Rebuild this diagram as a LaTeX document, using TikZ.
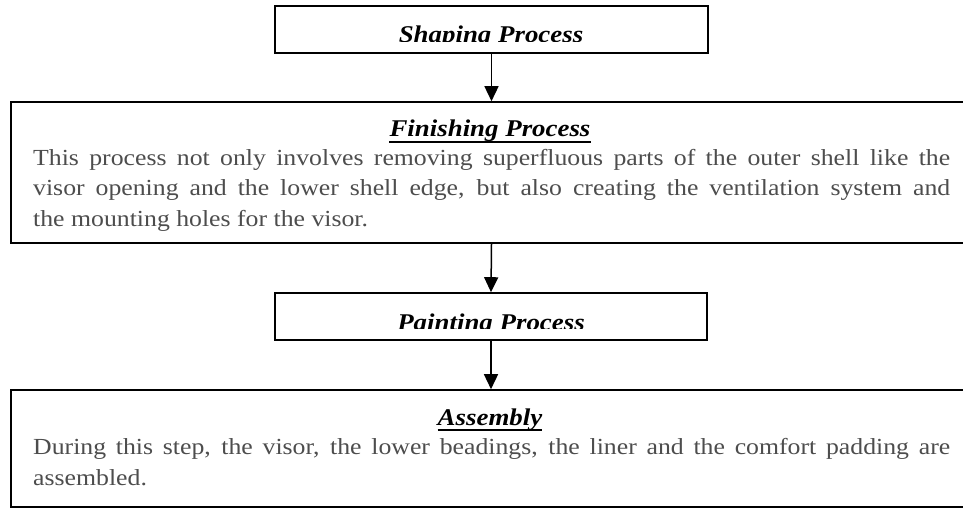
\documentclass[tikz,border=0pt]{standalone}
\usepackage{fontspec}
\setmainfont[FakeStretch=1.12]{Liberation Serif}
\usetikzlibrary{arrows.meta}
\definecolor{bodygray}{HTML}{4D4D4D}
\tikzset{
  box/.style={draw=black, line width=1.6pt, inner sep=0pt},
  flow/.style={draw=black, line width=1.5pt, -{Triangle[length=15pt,width=14pt]}},
  titletext/.style={font=\fontsize{24}{28}\selectfont\bfseries\itshape, text=black, inner sep=0pt, anchor=base},
  bodytext/.style={font=\fontsize{23}{30}\selectfont, text=bodygray, inner sep=0pt, anchor=base west},
  uline/.style={draw=black, line width=2pt}
}
\begin{document}
\begin{tikzpicture}[x=1pt,y=-1pt]
\clip (0,0) rectangle (963,508);
\fill[white] (0,0) rectangle (963,508);
% boxes
\node[box, minimum width=433pt, minimum height=47pt] (shape) at (491.5,29.5) {};
\node[box, minimum width=969pt, minimum height=141pt] (finish) at (495.5,172.5) {};
\node[box, minimum width=432pt, minimum height=47pt] (paint) at (491,316.5) {};
\node[box, minimum width=969pt, minimum height=117pt] (assem) at (495.5,448.5) {};
% clipped titles
\begin{scope}
  \clip (276,7) rectangle (707,42);
  \node[titletext] (shapet) at (491,43) {Shaping Process};
\end{scope}
\begin{scope}
  \clip (276,294) rectangle (706,328.5);
  \node[titletext] (paintt) at (491,330) {Painting Process};
\end{scope}
% underlined titles
\node[titletext] (finisht) at (490,136) {Finishing Process};
\draw[uline] ([yshift=-5.5pt]finisht.base west) -- ([yshift=-5.5pt]finisht.base east);
\node[titletext] (assemt) at (490,425) {Assembly};
\draw[uline] ([yshift=-4.5pt]assemt.base west) -- ([yshift=-4.5pt]assemt.base east);
% body text
\node[bodytext] (f1) at (33,165) {\makebox[917pt][s]{This process not only involves removing superfluous parts of the outer shell like the}};
\node[bodytext] (f2) at (33,195.5) {\makebox[917pt][s]{visor opening and the lower shell edge, but also creating the ventilation system and}};
\node[bodytext] (f3) at (33,226) {the mounting holes for the visor.};
\node[bodytext] (a1) at (33,454) {\makebox[917pt][s]{During this step, the visor, the lower beadings, the liner and the comfort padding are}};
\node[bodytext] (a2) at (33,485) {assembled.};
% arrows
\draw[flow] (shape.south) -- (shape.south |- finish.north);
\draw[flow] (shape.south |- finish.south) -- (paint.north);
\draw[flow] (paint.south) -- (paint.south |- assem.north);
\end{tikzpicture}
\end{document}
